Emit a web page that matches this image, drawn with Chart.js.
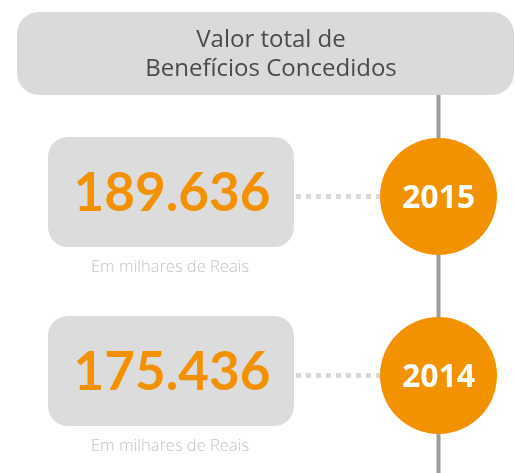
<!DOCTYPE html>
<html>
<head>
<meta charset="utf-8">
<script src="https://cdn.jsdelivr.net/npm/chart.js@4"></script>
<style>
  html, body { margin: 0; padding: 0; background: #fff; }
  #wrap { width: 515px; height: 473px; }
</style>
</head>
<body>
<div id="wrap"><canvas id="chartTimeline" width="515" height="473"></canvas></div>
<script>
// data
const titleLines = ['Valor total de', 'Benefícios Concedidos'];
const years = ['2015', '2014'];
const values = [189636, 175436]; // em milhares de reais
const unitLabel = 'Em milhares de Reais';

const ORANGE = '#f39200';
const BOX_GREY = '#dcdcdc';
const LINE_GREY = '#9d9d9d';
const TIMELINE_X = 438.5;
const CIRCLE_R = 58.5;

const fmt = (v) => String(v).replace(/\B(?=(\d{3})+(?!\d))/g, '.');

const roundRect = (c, x, y, w, h, r) => {
    c.beginPath();
    c.moveTo(x + r, y);
    c.arcTo(x + w, y, x + w, y + h, r);
    c.arcTo(x + w, y + h, x, y + h, r);
    c.arcTo(x, y + h, x, y, r);
    c.arcTo(x, y, x + w, y, r);
    c.closePath();
};

const timelinePlugin = {
    id: 'timeline',
    beforeDatasetsDraw(chart) {
        const c = chart.ctx;
        const xs = chart.scales.x, ys = chart.scales.y;
        const lineX = xs.getPixelForValue(TIMELINE_X);
        c.save();

        // header box
        c.fillStyle = '#dadada';
        roundRect(c, 17, 12, 497, 83, 22);
        c.fill();
        c.fillStyle = '#4a4a4a';
        c.font = '24px "Open Sans"';
        c.textAlign = 'center';
        c.textBaseline = 'alphabetic';
        c.fillText(titleLines[0], 271, 47);
        c.fillText(titleLines[1], 271, 76);

        // vertical timeline
        c.fillStyle = LINE_GREY;
        c.fillRect(lineX - 2, 95, 4, chart.height - 95);

        years.forEach((yr, i) => {
            const cy = ys.getPixelForValue(i);
            // value box
            c.fillStyle = BOX_GREY;
            roundRect(c, 48, cy - 59.5, 246, 110, 20);
            c.fill();
            c.fillStyle = ORANGE;
            c.font = 'bold 53px Lato';
            c.textAlign = 'center';
            c.fillText(fmt(values[i]), 172, cy + 14);
            // unit label
            c.fillStyle = '#c4c4c4';
            c.font = '300 16.5px "Open Sans"';
            c.fillText(unitLabel, 170, cy + 75);
            // dotted connector
            c.fillStyle = '#d9d9d9';
            for (let x = 296; x + 5 <= lineX - CIRCLE_R + 1; x += 10) {
                c.fillRect(x, cy - 2.5, 5, 5);
            }
        });
        c.restore();
    },
    afterDatasetsDraw(chart) {
        const c = chart.ctx;
        const xs = chart.scales.x, ys = chart.scales.y;
        c.save();
        c.fillStyle = '#ffffff';
        c.font = 'bold 32px "Open Sans"';
        c.textAlign = 'center';
        c.textBaseline = 'alphabetic';
        years.forEach((yr, i) => {
            c.fillText(yr, xs.getPixelForValue(TIMELINE_X), ys.getPixelForValue(i) + 11);
        });
        c.restore();
    }
};

var ctx = document.getElementById('chartTimeline').getContext('2d');

var chart = new Chart(ctx, {
    type: 'bubble',
    data: {
        labels: years,
        datasets: [{
            label: 'Ano',
            data: years.map((yr, i) => ({ x: TIMELINE_X, y: i, r: CIRCLE_R })),
            backgroundColor: ORANGE,
            borderWidth: 0,
            clip: false
        }]
    },
    options: {
        responsive: false,
        animation: false,
        devicePixelRatio: 1,
        layout: { padding: 0, autoPadding: false },
        plugins: {
            legend: { display: false },
            tooltip: { enabled: false }
        },
        scales: {
            x: { type: 'linear', display: false, min: 0, max: 515 },
            y: { type: 'linear', display: false, reverse: true, min: -196.5 / 179, max: (473 - 196.5) / 179 }
        }
    },
    plugins: [timelinePlugin]
});
</script>
</body>
</html>
